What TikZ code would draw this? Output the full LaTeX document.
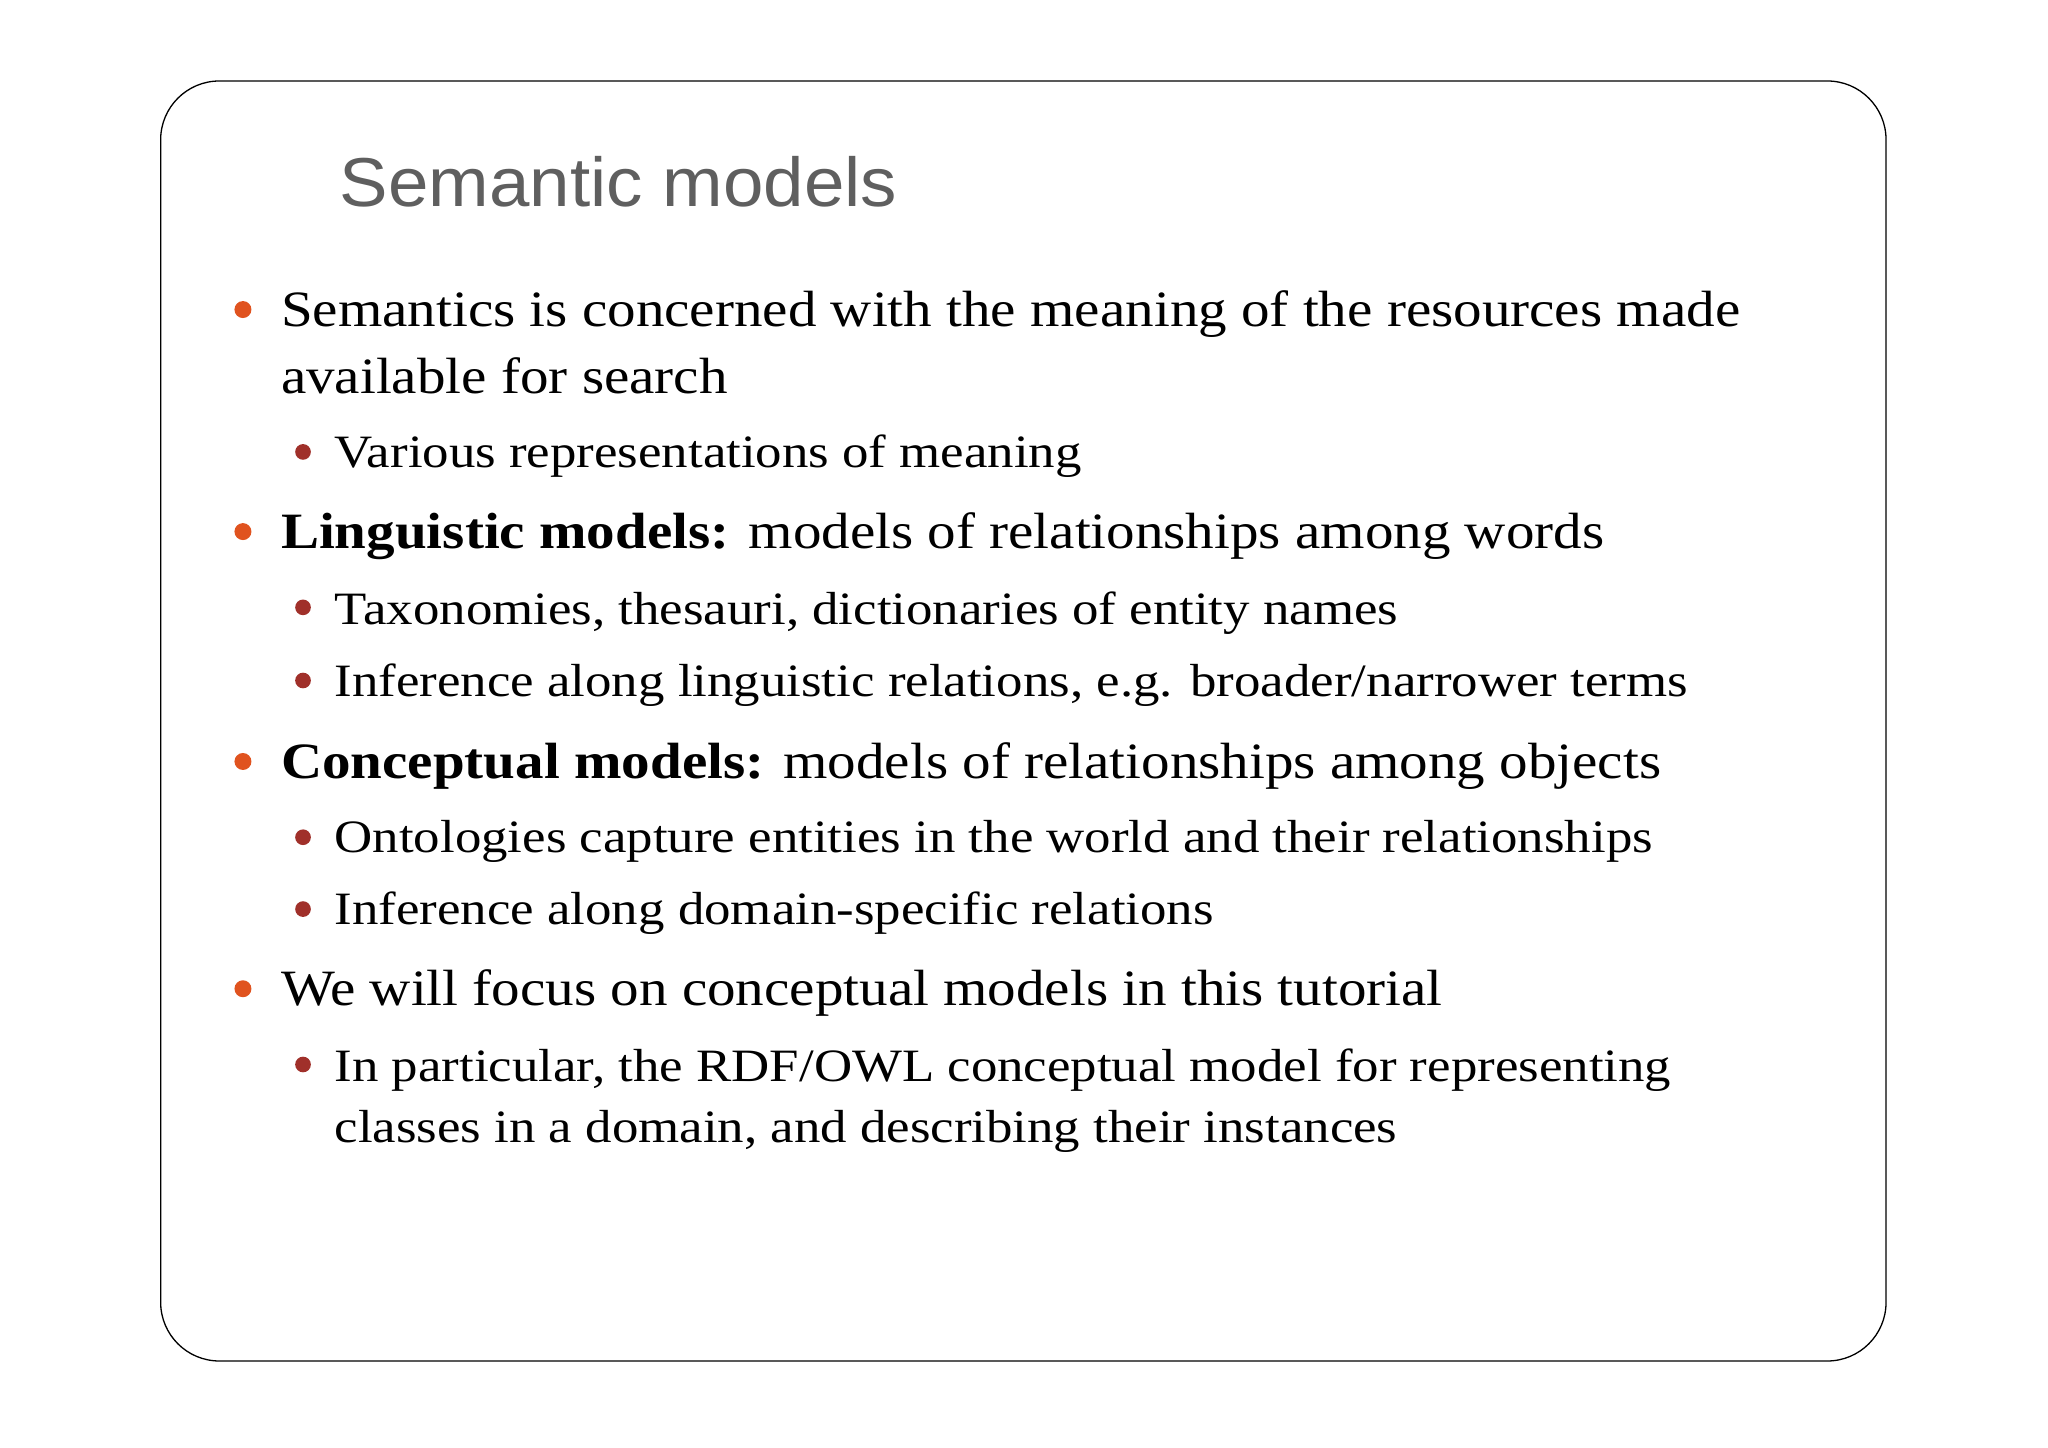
\documentclass[tikz,border=0pt]{standalone}
\usepackage{fontspec}
\setmainfont{Liberation Serif}[FakeStretch=1.12]
\newfontfamily\subfont{Liberation Serif}[FakeStretch=1.14]
\newfontfamily\titlefont{Liberation Sans}[FakeStretch=1.05]
\definecolor{orb}{HTML}{E0531F}
\definecolor{rdb}{HTML}{A0302A}
\definecolor{ttl}{HTML}{5F5F5F}
\begin{document}
\begin{tikzpicture}[x=1pt,y=-1pt,
  main/.style={anchor=base west,inner sep=0pt,font=\fontsize{39}{46}\selectfont},
  sub/.style={anchor=base west,inner sep=0pt,font=\subfont\fontsize{35.5}{42}\selectfont},
  b1/.style={fill=orb,draw=none},
  b2/.style={fill=rdb,draw=none}]
\useasboundingbox (0,0) rectangle (1568,1108);
\draw[line width=1pt,rounded corners=45pt] (123,62) rectangle (1444,1042);
\node[anchor=base west,inner sep=0pt,text=ttl,font=\titlefont\fontsize{53}{60}\selectfont] (title) at (260,158) {Semantic models};
\node[main] (l1) at (215,250) {Semantics is concerned with the meaning of the resources made};
\node[main] (l2) at (215,301) {available for search};
\node[sub] (l3) at (256,358) {Various representations of meaning};
\node[main] (l4) at (215,420) {\textbf{Linguistic models:} models of relationships among words};
\node[sub] (l5) at (256,478) {Taxonomies, thesauri, dictionaries of entity names};
\node[sub] (l6) at (256,533) {Inference along linguistic relations, e.g. broader/narrower terms};
\node[main] (l7) at (215,596) {\textbf{Conceptual models:} models of relationships among objects};
\node[sub] (l8) at (256,653) {Ontologies capture entities in the world and their relationships};
\node[sub] (l9) at (256,708) {Inference along domain-specific relations};
\node[main] (l10) at (215,770) {We will focus on conceptual models in this tutorial};
\node[sub] (l11) at (256,828) {In particular, the RDF/OWL conceptual model for representing};
\node[sub] (l12) at (256,875) {classes in a domain, and describing their instances};
\foreach \y in {237,407,583,757} \fill[b1] (186,\y) circle (6.5);
\foreach \y in {346,465,521,641,696,815} \fill[b2] (232,\y) circle (6);
\end{tikzpicture}
\end{document}
